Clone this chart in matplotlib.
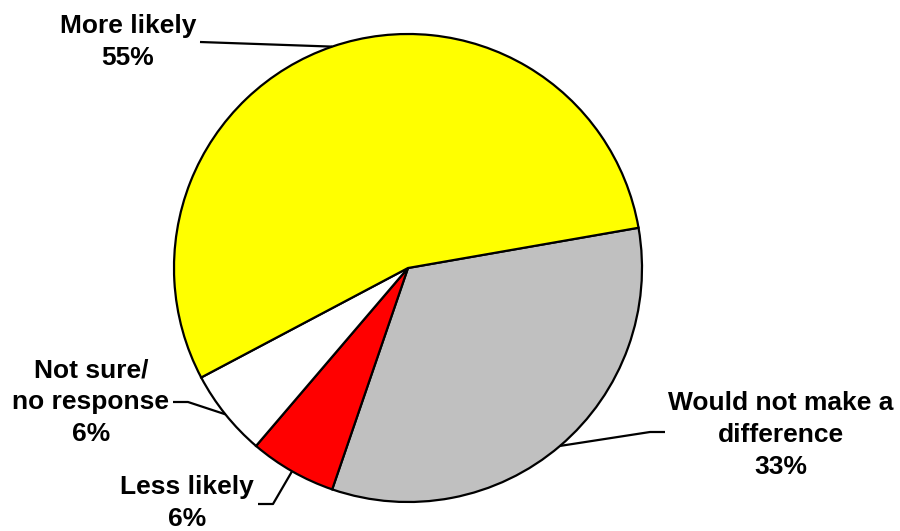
import matplotlib
matplotlib.use('Agg')
import matplotlib.pyplot as plt
import numpy as np

# slices in clockwise order starting from the yellow/gray boundary
labels = ['Would not make a\ndifference', 'Less likely', 'Not sure/\nno response', 'More likely']
shares = [33, 6, 6, 55]
colors = ['#C0C0C0', '#FF0000', '#FFFFFF', '#FFFF00']

W, H = 900, 531
fig = plt.figure(figsize=(9, 5.31), dpi=100)
ax = fig.add_axes([0, 0, 1, 1])

cx, cy, r = 408, H - 268, 234
wedges, _ = ax.pie(shares, colors=colors, startangle=9.9, counterclock=False,
                   center=(cx, cy), radius=r,
                   wedgeprops=dict(edgecolor='black', linewidth=1.6))
ax.set_xlim(0, W)
ax.set_ylim(0, H)
ax.set_aspect('equal')
ax.axis('off')

# label block centers and leader elbows (pixel coords, y down)
text_pos = [(781, 435), (187, 503), (91, 402), (128, 42)]
elbows = [[(650, 432), (665, 432)],
          [(273, 504), (258, 504)],
          [(188, 402), (173, 402)],
          [(200, 42)]]

for w, lab, val, tp, el in zip(wedges, labels, shares, text_pos, elbows):
    mid = np.deg2rad((w.theta1 + w.theta2) / 2)
    ax_x = cx + r * np.cos(mid)
    ax_y = cy + r * np.sin(mid)
    xs = [ax_x] + [p[0] for p in el]
    ys = [ax_y] + [H - p[1] for p in el]
    ax.plot(xs, ys, color='black', linewidth=1.6, solid_capstyle='butt')
    ax.text(tp[0], H - tp[1], f'{lab}\n{val}%', ha='center', va='center',
            multialignment='center', fontsize=19, fontweight='bold',
            family='Liberation Sans', linespacing=1.42)

fig.savefig('out.png', dpi=100)
